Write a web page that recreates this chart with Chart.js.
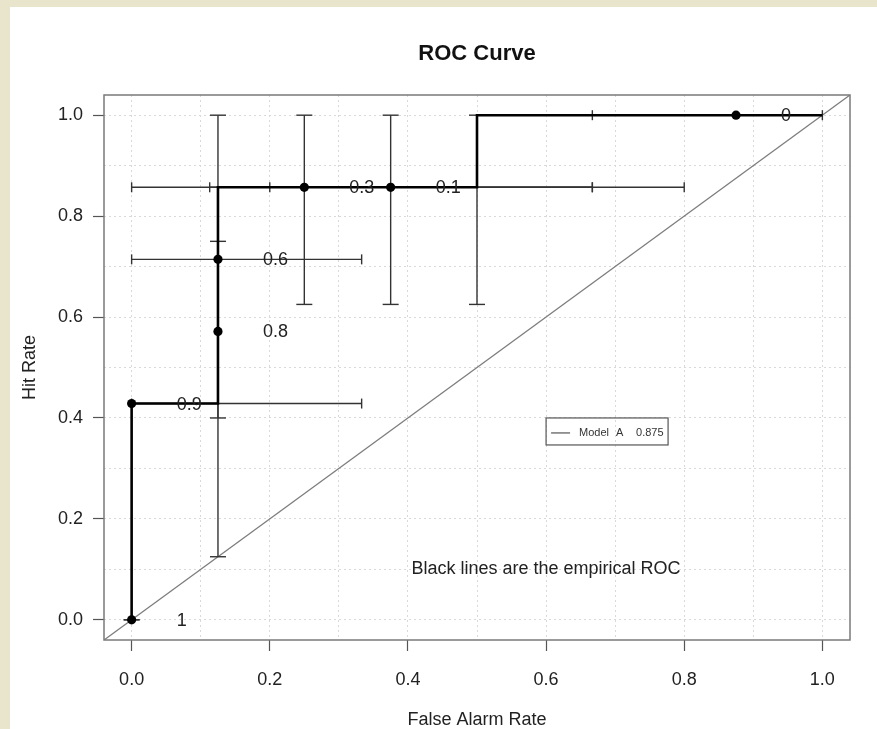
<!DOCTYPE html>
<html>
<head>
<meta charset="utf-8">
<title>ROC Curve</title>
<script src="https://cdn.jsdelivr.net/npm/chart.js@4.4.1/dist/chart.umd.min.js"></script>
<style>
  html, body { margin: 0; padding: 0; background: #fff; }
  #wrap { width: 877px; height: 729px; }
</style>
</head>
<body>
<div id="wrap"><canvas id="roc" width="877" height="729"></canvas></div>
<script>
// empirical ROC points and the threshold written beside each
var farPts = [0, 0, 0.125, 0.125, 0.25, 0.375, 0.875];
var hitPts = [0, 3 / 7, 4 / 7, 5 / 7, 6 / 7, 6 / 7, 1];
var threshLabels = ['1', '0.9', '0.8', '0.6', '0.3', '0.1', '0'];

// the black step line
var rocX = [0, 0, 0.125, 0.125, 0.5, 0.5, 1];
var rocY = [0, 3 / 7, 3 / 7, 6 / 7, 6 / 7, 1, 1];

// confidence bars on hit rate (vertical)
var vBarX = [0, 0.125, 0.125, 0.25, 0.375, 0.5];
var vBarLo = [0, 0.125, 0.4, 0.625, 0.625, 0.625];
var vBarHi = [0, 0.75, 1, 1, 1, 1];

// confidence bars on false alarm rate (horizontal)
var hBarY = [3 / 7, 5 / 7, 6 / 7, 6 / 7, 6 / 7, 1];
var hBarLo = [0, 0, 0, 0.113, 0.2, 0.667];
var hBarHi = [0.333, 0.333, 0.8, 0.667, 0.667, 1];

// axis ticks (grid every 0.1, labels every 0.2)
var tickVals = [0, 0.1, 0.2, 0.3, 0.4, 0.5, 0.6, 0.7, 0.8, 0.9, 1];
var axisMin = -0.04, axisMax = 1.04;

// legend and note
var legendModel = 'Model', legendName = 'A', legendScore = '0.875';
var noteText = 'Black lines are the empirical ROC';

Chart.defaults.font.family = "'Liberation Sans', Arial, Helvetica, sans-serif";
Chart.defaults.color = '#222';

var FONT = "'Liberation Sans', Arial, Helvetica, sans-serif";
var barColor = '#333';

function isMajor(v) {
  return Math.round(v * 10) % 2 === 0;
}

var datasets = [];

// points on top
datasets.push({
  data: farPts.map(function (x, i) { return { x: x, y: hitPts[i] }; }),
  showLine: false,
  pointRadius: 4.6,
  pointBackgroundColor: '#000',
  pointBorderColor: '#000',
  pointBorderWidth: 0
});

datasets.push({
  data: rocX.map(function (x, i) { return { x: x, y: rocY[i] }; }),
  showLine: true,
  borderColor: '#000',
  borderWidth: 2.6,
  pointRadius: 0
});

vBarX.forEach(function (x, i) {
  datasets.push({
    data: [{ x: x, y: vBarLo[i] }, { x: x, y: vBarHi[i] }],
    showLine: true,
    borderColor: barColor,
    borderWidth: 1.4,
    pointStyle: 'line',
    pointRadius: 8,
    pointRotation: 0,
    pointBorderColor: barColor,
    pointBorderWidth: 1.4
  });
});

hBarY.forEach(function (y, i) {
  datasets.push({
    data: [{ x: hBarLo[i], y: y }, { x: hBarHi[i], y: y }],
    showLine: true,
    borderColor: barColor,
    borderWidth: 1.4,
    pointStyle: 'line',
    pointRadius: 5,
    pointRotation: 90,
    pointBorderColor: barColor,
    pointBorderWidth: 1.4
  });
});

// no-skill diagonal
datasets.push({
  data: [{ x: axisMin, y: axisMin }, { x: axisMax, y: axisMax }],
  showLine: true,
  borderColor: '#7d7d7d',
  borderWidth: 1.3,
  pointRadius: 0
});

var decorPlugin = {
  id: 'decor',
  beforeDraw: function (chart) {
    var ctx = chart.ctx;
    ctx.save();
    ctx.fillStyle = '#e9e4cc';
    ctx.fillRect(0, 0, chart.width, chart.height);
    ctx.fillStyle = '#ffffff';
    ctx.fillRect(10, 7, chart.width - 10, chart.height - 7);
    ctx.restore();
  },
  afterDatasetsDraw: function (chart) {
    var ctx = chart.ctx, a = chart.chartArea;
    var xs = chart.scales.x, ys = chart.scales.y;
    ctx.save();

    // plot box
    ctx.strokeStyle = '#7a7a7a';
    ctx.lineWidth = 1.5;
    ctx.strokeRect(a.left, a.top, a.right - a.left, a.bottom - a.top);

    // threshold labels
    ctx.fillStyle = '#222';
    ctx.font = '18px ' + FONT;
    ctx.textAlign = 'left';
    ctx.textBaseline = 'middle';
    threshLabels.forEach(function (lab, i) {
      ctx.fillText(lab, xs.getPixelForValue(farPts[i]) + 45, ys.getPixelForValue(hitPts[i]) + 1);
    });

    // note
    ctx.textAlign = 'center';
    ctx.fillText(noteText, xs.getPixelForValue(0.6), ys.getPixelForValue(0.1));

    // legend
    var lx = xs.getPixelForValue(0.6), ly = ys.getPixelForValue(0.4);
    ctx.strokeStyle = '#555';
    ctx.lineWidth = 1.2;
    ctx.strokeRect(lx, ly, 122, 27);
    ctx.strokeStyle = '#333';
    ctx.lineWidth = 1;
    ctx.beginPath();
    ctx.moveTo(lx + 5, ly + 15);
    ctx.lineTo(lx + 24, ly + 15);
    ctx.stroke();
    ctx.font = '11px ' + FONT;
    ctx.textAlign = 'left';
    ctx.fillStyle = '#333';
    ctx.fillText(legendModel, lx + 33, ly + 15);
    ctx.fillText(legendName, lx + 70, ly + 15);
    ctx.fillText(legendScore, lx + 90, ly + 15);
    ctx.restore();
  }
};

function makeAxis(titleText, isX) {
  return {
    type: 'linear',
    min: axisMin,
    max: axisMax,
    afterBuildTicks: function (s) {
      s.ticks = tickVals.map(function (v) { return { value: v }; });
    },
    afterFit: function (s) {
      if (isX) s.height = 89; else s.width = 104;
    },
    grid: {
      color: '#d9d9d9',
      lineWidth: 1,
      drawTicks: true,
      tickLength: 11,
      tickWidth: 1.2,
      tickColor: function (c) {
        return c.tick && isMajor(c.tick.value) ? '#555' : 'rgba(0,0,0,0)';
      }
    },
    border: { display: false, dash: [2, 3] },
    ticks: {
      autoSkip: false,
      maxRotation: 0,
      padding: isX ? 18 : 10,
      color: '#222',
      font: { size: 18 },
      callback: function (v) { return isMajor(v) ? v.toFixed(1) : ''; }
    },
    title: {
      display: true,
      text: titleText,
      color: '#222',
      font: { size: 18, lineHeight: 1 },
      padding: isX ? { top: 0, bottom: 0 } : { top: 21, bottom: 0 }
    }
  };
}

new Chart(document.getElementById('roc'), {
  type: 'scatter',
  data: { datasets: datasets },
  options: {
    responsive: false,
    animation: false,
    layout: { padding: { left: 0, right: 27, top: 0, bottom: 0 } },
    scales: {
      x: makeAxis('False Alarm Rate', true),
      y: makeAxis('Hit Rate', false)
    },
    plugins: {
      legend: { display: false },
      tooltip: { enabled: false },
      title: {
        display: true,
        text: 'ROC Curve',
        fullSize: false,
        color: '#111',
        font: { size: 22, weight: 'bold', lineHeight: 1.2 },
        padding: { top: 40.5, bottom: 28.1 }
      }
    }
  },
  plugins: [decorPlugin]
});
</script>
</body>
</html>
